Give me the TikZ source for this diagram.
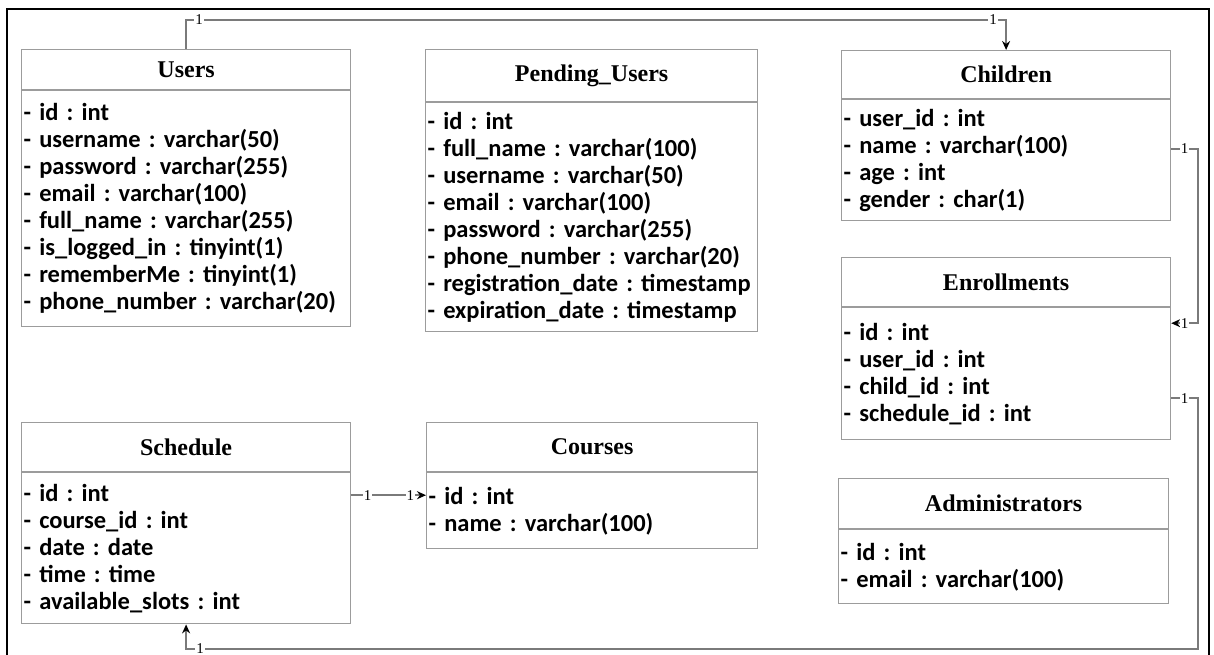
\documentclass[tikz,border=0pt]{standalone}
\usepackage{fontspec}
\setmainfont{Liberation Serif}
\newfontfamily\attrfont{Carlito}
\usetikzlibrary{arrows.meta}
\definecolor{erline}{HTML}{9C9C9C}
\definecolor{erwire}{HTML}{7A7A7A}
\frenchspacing

\begin{document}
\begin{tikzpicture}[x=1pt, y=-1pt,
  tblhead/.style={draw=erline, line width=1.2pt, inner sep=0pt, anchor=north west,
    font=\fontsize{24}{27}\selectfont\bfseries},
  tblattr/.style={draw=erline, line width=1.2pt, inner xsep=2pt, inner ysep=0pt,
    anchor=north west, align=left, font=\attrfont\fontsize{24.5}{27}\selectfont\bfseries},
  wire/.style={draw=erwire, line width=1.6pt},
  tip/.style={wire, -{Stealth[length=9pt, width=8pt, color=black]}},
  mult/.style={fill=white, inner sep=1pt, font=\fontsize{15}{15}\selectfont}]
  \useasboundingbox (0,0) rectangle (1214,655);
  \draw[line width=2pt] (7,656) -- (7,9) -- (1209,9) -- (1209,656);

  % tables
  \node[tblhead, minimum width=329pt, minimum height=40pt] (users-head) at (21,49) {Users};
  \node[tblattr, text width=325pt, minimum height=236pt] (users-attr) at (users-head.south west)
    {- id : int\\ - username : varchar(50)\\ - password : varchar(255)\\ - email : varchar(100)\\
     - full\_name : varchar(255)\\ - is\_logged\_in : tinyint(1)\\ - rememberMe : tinyint(1)\\
     - phone\_number : varchar(20)};

  \node[tblhead, minimum width=332pt, minimum height=52pt] (pending-head) at (425,49) {Pending\_Users};
  \node[tblattr, text width=328pt, minimum height=229pt] (pending-attr) at (pending-head.south west)
    {- id : int\\ - full\_name : varchar(100)\\ - username : varchar(50)\\ - email : varchar(100)\\
     - password : varchar(255)\\ - phone\_number : varchar(20)\\
     - registration\_date : timestamp\\ - expiration\_date : timestamp};

  \node[tblhead, minimum width=329pt, minimum height=48pt] (children-head) at (841,50) {Children};
  \node[tblattr, text width=325pt, minimum height=121pt] (children-attr) at (children-head.south west)
    {- user\_id : int\\ - name : varchar(100)\\ - age : int\\ - gender : char(1)};

  \node[tblhead, minimum width=329pt, minimum height=49pt] (enroll-head) at (841,257) {Enrollments};
  \node[tblattr, text width=325pt, minimum height=132pt] (enroll-attr) at (enroll-head.south west)
    {- id : int\\ - user\_id : int\\ - child\_id : int\\ - schedule\_id : int};

  \node[tblhead, minimum width=330pt, minimum height=50pt] (admin-head) at (838,478) {Administrators};
  \node[tblattr, text width=326pt, minimum height=74pt] (admin-attr) at (admin-head.south west)
    {- id : int\\ - email : varchar(100)};

  \node[tblhead, minimum width=329pt, minimum height=49pt] (schedule-head) at (21,422) {Schedule};
  \node[tblattr, text width=325pt, minimum height=151pt] (schedule-attr) at (schedule-head.south west)
    {- id : int\\ - course\_id : int\\ - date : date\\ - time : time\\ - available\_slots : int};

  \node[tblhead, minimum width=331pt, minimum height=49pt] (courses-head) at (426,422) {Courses};
  \node[tblattr, text width=327pt, minimum height=76pt] (courses-attr) at (courses-head.south west)
    {- id : int\\ - name : varchar(100)};

  % relations
  \coordinate (topwire) at (0,20);
  \coordinate (rwire) at (1198,0);
  \coordinate (botwire) at (0,649);
  \coordinate (ch-out) at ([yshift=11.5pt]children-attr.east);
  \coordinate (en-in) at ([yshift=-16pt]enroll-attr.north east);
  \coordinate (en-out) at ([yshift=-91pt]enroll-attr.north east);
  \coordinate (sc-out) at ([yshift=-23pt]schedule-attr.north east);

  \draw[tip] (users-head.north) -- (users-head.north |- topwire) node[mult, xshift=13pt] {1}
    -- (children-head.north |- topwire) node[mult, xshift=-13pt] {1} -- (children-head.north);
  \draw[tip] (ch-out) -- node[mult] {1} (ch-out -| rwire) -- (en-in -| rwire)
    -- node[mult] {1} (en-in);
  \draw[tip] (en-out) -- node[mult] {1} (en-out -| rwire) -- (rwire |- botwire)
    -- (schedule-attr.south |- botwire) node[mult, xshift=14pt, inner ysep=0pt] {1} -- (schedule-attr.south);
  \draw[tip] (sc-out) -- node[mult, pos=0.22] {1} node[mult, pos=0.79] {1} (sc-out -| courses-attr.west);
\end{tikzpicture}
\end{document}
